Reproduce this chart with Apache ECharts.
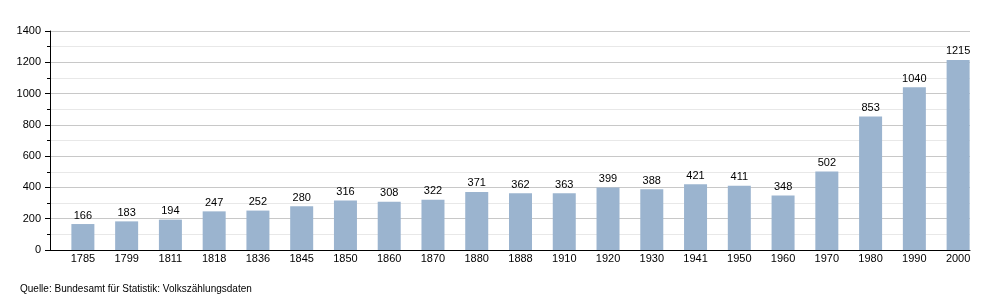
<!DOCTYPE html>
<html><head><meta charset="utf-8">
<script src="https://cdn.jsdelivr.net/npm/echarts@6/dist/echarts.min.js"></script>
<style>html,body{margin:0;padding:0;background:#fff}#c{width:1000px;height:300px}</style>
</head><body><div id="c"></div>
<script>
const years = ['1785','1799','1811','1818','1836','1845','1850','1860','1870','1880','1888','1910','1920','1930','1941','1950','1960','1970','1980','1990','2000'];
const population = [166,183,194,247,252,280,316,308,322,371,362,363,399,388,421,411,348,502,853,1040,1215];
const yTicks = {min:0, max:1400, interval:200};
const sourceText = 'Quelle: Bundesamt für Statistik: Volkszählungsdaten';

const font = 'Liberation Sans, Arial, sans-serif';
const chart = echarts.init(document.getElementById('c'), null, {renderer:'canvas'});
chart.setOption({
  animation:false,
  textStyle:{fontFamily:font},
  grid:[
    {left:50, right:30, top:31, bottom:50, containLabel:false},
    {left:61, right:20, top:31, bottom:50, containLabel:false}
  ],
  graphic:[{type:'text', left:20, top:284, style:{text:sourceText, fill:'#000', font:'10px '+font}}],
  xAxis:[
    {gridIndex:0, type:'value', min:0, max:1, show:true,
     axisLine:{show:true, lineStyle:{color:'#000', width:1}}, axisTick:{show:false},
     axisLabel:{show:false}, splitLine:{show:false}},
    {gridIndex:1, type:'category', data:years, boundaryGap:true,
     axisLine:{show:false}, axisTick:{show:false},
     axisLabel:{color:'#000', fontSize:11, margin:3, fontFamily:font, interval:0}}
  ],
  yAxis:[
    {gridIndex:0, type:'value', min:yTicks.min, max:yTicks.max, interval:yTicks.interval,
     axisLine:{show:true, lineStyle:{color:'#000', width:1}},
     axisTick:{show:true, length:5, lineStyle:{color:'#000'}},
     minorTick:{show:true, splitNumber:2, length:3, lineStyle:{color:'#000'}},
     axisLabel:{color:'#000', fontSize:11, margin:9, fontFamily:font, formatter:v=>String(v)},
     splitLine:{show:true, lineStyle:{color:'#c8c8c8', width:1}},
     minorSplitLine:{show:true, lineStyle:{color:'#e8e8e8', width:1}}},
    {gridIndex:1, type:'value', min:yTicks.min, max:yTicks.max, interval:yTicks.interval, show:false,
     splitLine:{show:false}}
  ],
  series:[{
    type:'bar', xAxisIndex:1, yAxisIndex:1, data:population, barWidth:23,
    itemStyle:{color:'#9bb4cf'},
    label:{show:true, position:'top', distance:3, color:'#000', fontSize:11, fontFamily:font}
  }]
});
</script></body></html>
